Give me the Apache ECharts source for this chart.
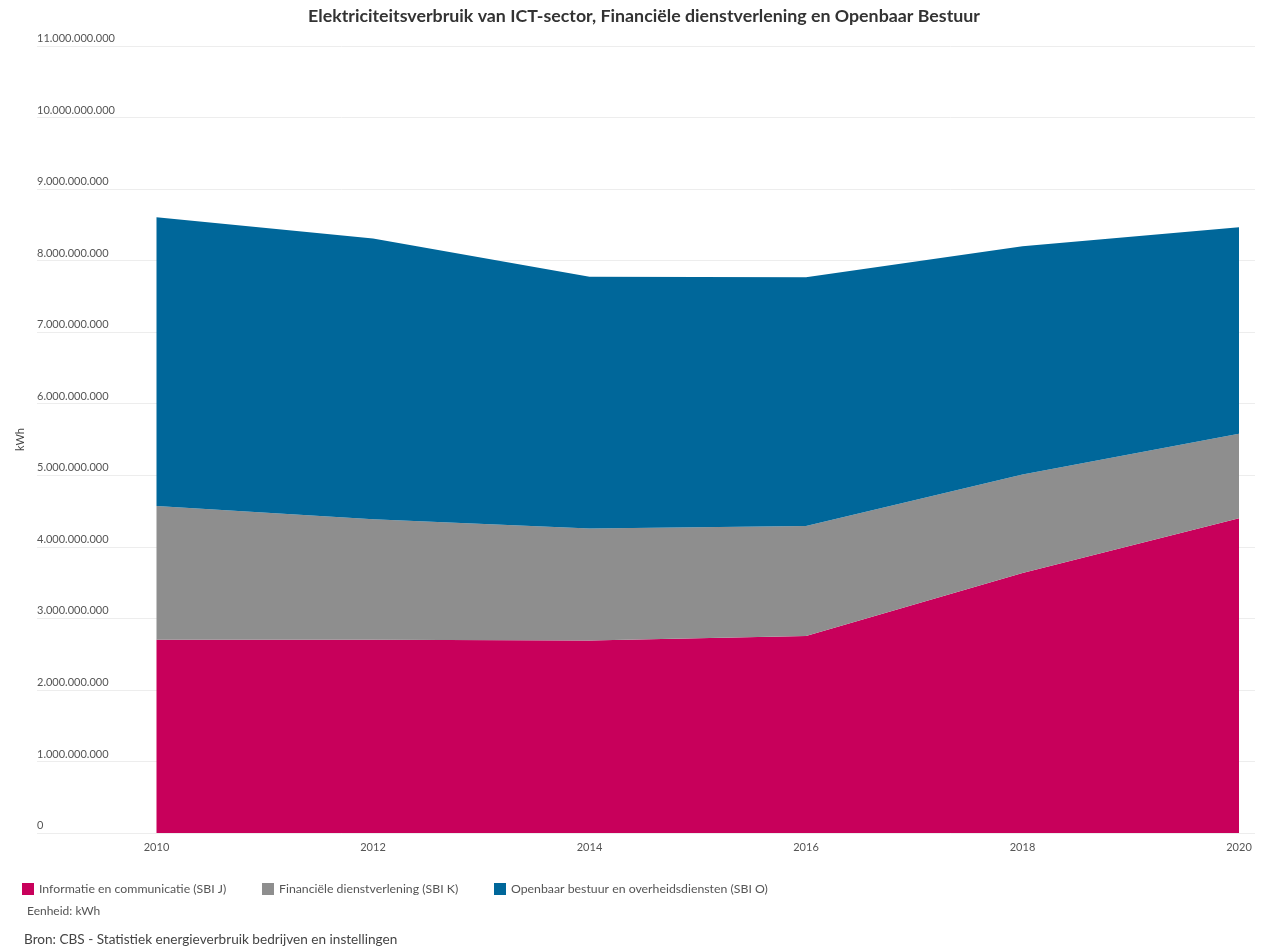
<!DOCTYPE html>
<html>
<head>
<meta charset="utf-8">
<style>
  html, body { margin: 0; padding: 0; background: #ffffff; }
  #chart { width: 1288px; height: 950px; }
</style>
<script src="https://cdn.jsdelivr.net/npm/echarts@6/dist/echarts.min.js"></script>
</head>
<body>
<div id="chart"></div>
<script>
// Data (kWh)
const years = ['2010', '2012', '2014', '2016', '2018', '2020'];
const ictValues = [2700000000, 2700000000, 2690000000, 2755000000, 3635000000, 4400000000];
const finValues = [1870000000, 1685000000, 1565000000, 1535000000, 1375000000, 1180000000];
const govValues = [4036000000, 3925000000, 3521000000, 3477000000, 3190000000, 2885000000];
const seriesNames = [
  'Informatie en communicatie (SBI J)',
  'Financiële dienstverlening (SBI K)',
  'Openbaar bestuur en overheidsdiensten (SBI O)'
];

const colors = ['#c8005b', '#8e8e8e', '#00679a'];
const FONT = 'Lato, "Noto Sans", sans-serif';
const Y_MAX = 11000000000;
const Y_STEP = 1000000000;

function fmt(v) {
  return String(Math.round(v)).replace(/\B(?=(\d{3})+(?!\d))/g, '.');
}

const chart = echarts.init(document.getElementById('chart'), null, { renderer: 'canvas' });
const option = {
  animation: false,
  backgroundColor: '#ffffff',
  textStyle: { fontFamily: FONT },
  title: [
    {
      text: 'Elektriciteitsverbruik van ICT-sector, Financiële dienstverlening en Openbaar Bestuur',
      left: 'center', top: 2,
      textStyle: { fontFamily: FONT, fontSize: 17.8, fontWeight: 'bold', color: '#333333' }
    },
    {
      text: 'Eenheid: kWh',
      left: 22, top: 900,
      textStyle: { fontFamily: FONT, fontSize: 12, fontWeight: 'normal', color: '#555555' }
    },
    {
      text: 'Bron: CBS - Statistiek energieverbruik bedrijven en instellingen',
      left: 19, top: 928,
      textStyle: { fontFamily: FONT, fontSize: 13.6, fontWeight: 'normal', color: '#444444' }
    }
  ],
  legend: [0, 1, 2].map((i) => ({
    data: [seriesNames[i]],
    left: [22, 262, 494][i],
    top: 883,
    padding: 0,
    icon: 'rect',
    itemWidth: 12,
    itemHeight: 12,
    selectedMode: false,
    textStyle: { fontFamily: FONT, fontSize: 12.3, color: '#555555' }
  })),
  grid: [
    { left: 37, right: 33, top: 46, bottom: 117, containLabel: false },
    { left: 156.5, right: 49, top: 46, bottom: 117, containLabel: false }
  ],
  xAxis: [
    {
      gridIndex: 0, type: 'category', data: years, show: false
    },
    {
      gridIndex: 1,
      type: 'category',
      data: years,
      boundaryGap: false,
      axisLine: { show: false },
      axisTick: { show: false },
      splitLine: { show: false },
      axisLabel: { margin: 9, fontFamily: FONT, fontSize: 11, color: '#555555' }
    }
  ],
  yAxis: [
    {
      gridIndex: 0,
      type: 'value',
      min: 0,
      max: Y_MAX,
      interval: Y_STEP,
      name: 'kWh',
      nameLocation: 'middle',
      nameRotate: 90,
      nameGap: 8,
      nameTextStyle: { fontFamily: FONT, fontSize: 11, color: '#444444' },
      axisLine: { show: false },
      axisTick: { show: false },
      splitLine: { show: true, lineStyle: { color: '#ededed', width: 1 } },
      axisLabel: {
        align: 'left',
        verticalAlign: 'bottom',
        margin: 0,
        padding: [0, 0, 2, 0],
        fontFamily: FONT,
        fontSize: 11,
        color: '#555555',
        formatter: fmt
      }
    },
    {
      gridIndex: 1,
      type: 'value',
      min: 0,
      max: Y_MAX,
      interval: Y_STEP,
      show: false,
      splitLine: { show: false }
    }
  ],
  series: [ictValues, finValues, govValues].map((vals, i) => ({
    name: seriesNames[i],
    type: 'line',
    xAxisIndex: 1,
    yAxisIndex: 1,
    stack: 'total',
    data: vals,
    symbol: 'none',
    showSymbol: false,
    lineStyle: { width: 0, color: colors[i] },
    itemStyle: { color: colors[i] },
    areaStyle: { color: colors[i], opacity: 1 },
    emphasis: { disabled: true }
  }))
};
chart.setOption(option);
</script>
</body>
</html>
